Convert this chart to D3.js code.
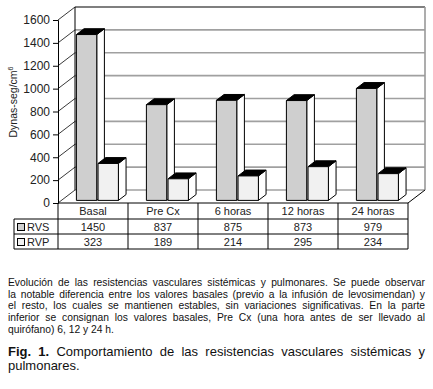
<!DOCTYPE html>
<html>
<head>
<meta charset="utf-8">
<script src="https://cdn.jsdelivr.net/npm/d3@7"></script>
<style>
  body { margin: 0; background: #fff; font-family: "Liberation Sans", Arial, sans-serif; }
  #wrap { position: relative; width: 433px; height: 389px; overflow: hidden; }
  svg { position: absolute; left: 0; top: 0; }
  .cap { position: absolute; left: 8px; width: 417px; color: #111; }
  .cap div { text-align: justify; text-align-last: justify; white-space: nowrap; }
  .cap div.last { text-align-last: left; }
</style>
</head>
<body>
<div id="wrap"></div>
<script>
const categories = ['Basal', 'Pre Cx', '6 horas', '12 horas', '24 horas'];
const series = ['RVS', 'RVP'];
const rvs = [1450, 837, 875, 873, 979];
const rvp = [323, 189, 214, 295, 234];
const yTicks = [0, 200, 400, 600, 800, 1000, 1200, 1400, 1600];

const captionLines = [
  'Evolución de las resistencias vasculares sistémicas y pulmonares. Se puede observar',
  'la notable diferencia entre los valores basales (previo a la infusión de levosimendan) y',
  'el resto, los cuales se mantienen estables, sin variaciones significativas. En la parte',
  'inferior se consignan los valores basales, Pre Cx (una hora antes de ser llevado al',
  'quirófano) 6, 12 y 24 h.'
];
const figLines = ['Comportamiento de las resistencias vasculares sistémicas y', 'pulmonares.'];

const W = 433, H = 389;
const DX = 17, DY = 13;          // depth of the 3D box
const D0 = 0.2, D1 = 0.65;       // depth span of the bars
const plotL = 58, plotR = 408, plotT = 20, floorY = 203;

const wrap = d3.select('#wrap');
const svg = wrap.append('svg').attr('width', W).attr('height', H);

const x0 = d3.scaleBand().domain(categories).range([plotL, plotR]);
const x1 = d3.scaleBand().domain(series).range([15, 57]).paddingInner(0.06);
const y = d3.scaleLinear().domain([0, 1600]).range([floorY, plotT]);

const P = (px, v, d) => [px + d * DX, y(v) - d * DY];
const poly = pts => 'M' + pts.map(p => p.join(',')).join('L') + 'Z';

// walls and floor
svg.append('path').attr('d', poly([P(plotL, 0, 1), P(plotR, 0, 1), P(plotR, 1600, 1), P(plotL, 1600, 1)]))
  .attr('fill', '#fff');
svg.append('path').attr('d', poly([P(plotL, 0, 0), P(plotL, 0, 1), P(plotL, 1600, 1), P(plotL, 1600, 0)]))
  .attr('fill', '#fff');

// gridlines
yTicks.forEach(v => {
  const a = P(plotL, v, 1), b = P(plotR, v, 1), c = P(plotL, v, 0);
  svg.append('line').attr('x1', a[0]).attr('y1', a[1]).attr('x2', b[0]).attr('y2', b[1])
    .attr('stroke', v === 1600 ? '#000' : '#a0a0a0').attr('stroke-width', v === 1600 ? 1.2 : 1.6);
  svg.append('line').attr('x1', c[0]).attr('y1', c[1]).attr('x2', a[0]).attr('y2', a[1])
    .attr('stroke', '#222').attr('stroke-width', 0.9);
});

// box edges
const edge = (p, q, col, w) => svg.append('line')
  .attr('x1', p[0]).attr('y1', p[1]).attr('x2', q[0]).attr('y2', q[1])
  .attr('stroke', col).attr('stroke-width', w);
edge(P(plotL, 0, 1), P(plotL, 1600, 1), '#000', 1);
edge(P(plotR, 0, 1), P(plotR, 1600, 1), '#999', 1.6);
edge(P(plotR, 0, 0), P(plotR, 0, 1), '#000', 1);

// bars
const values = { RVS: rvs, RVP: rvp };
const fronts = { RVS: '#cfcfcf', RVP: '#f1f1f1' };
categories.forEach((c, i) => {
  series.forEach(s => {
    const v = values[s][i];
    const xa = x0(c) + x1(s), xb = xa + x1.bandwidth();
    const g = svg.append('g').attr('stroke', '#000').attr('stroke-width', 1).attr('stroke-linejoin', 'round');
    g.append('path').attr('d', poly([P(xb, 0, D0), P(xb, 0, D1), P(xb, v, D1), P(xb, v, D0)])).attr('fill', '#fff');
    g.append('path').attr('d', poly([P(xa, v, D0), P(xb, v, D0), P(xb, v, D1), P(xa, v, D1)])).attr('fill', '#000');
    g.append('path').attr('d', poly([P(xa, 0, D0), P(xb, 0, D0), P(xb, v, D0), P(xa, v, D0)])).attr('fill', fronts[s]);
  });
});

// front axis
const axis = svg.append('g').attr('transform', `translate(${plotL},0)`)
  .call(d3.axisLeft(y).tickValues(yTicks).tickSize(5).tickPadding(3).tickFormat(d3.format('d')));
axis.select('.domain').attr('stroke', '#000');
axis.selectAll('.tick line').attr('stroke', '#000');
axis.selectAll('text').attr('font-family', '"Liberation Sans", Arial, sans-serif')
  .attr('font-size', 12).attr('fill', '#222');

// y axis title
const yt = svg.append('text')
  .attr('transform', 'translate(17,102) rotate(-90)')
  .attr('text-anchor', 'middle')
  .attr('font-size', 10.5).attr('fill', '#222');
yt.append('tspan').text('Dynas-seg/cm');
yt.append('tspan').attr('font-size', 7).attr('dy', -4).text('6');

// data table
const rowY = [floorY, 219, 234, 249];
const tableL = 14;
const tbl = svg.append('g').attr('stroke', '#000').attr('stroke-width', 1);
tbl.append('line').attr('x1', plotL).attr('x2', plotR).attr('y1', rowY[0]).attr('y2', rowY[0]);
rowY.slice(1).forEach(ry => tbl.append('line').attr('x1', tableL).attr('x2', plotR).attr('y1', ry).attr('y2', ry));
tbl.append('line').attr('x1', tableL).attr('x2', tableL).attr('y1', rowY[1]).attr('y2', rowY[3]);
categories.concat([null]).forEach(c => {
  const xx = c === null ? plotR : x0(c);
  tbl.append('line').attr('x1', xx).attr('x2', xx).attr('y1', rowY[0]).attr('y2', rowY[3]);
});

const tText = svg.append('g').attr('font-size', 11).attr('fill', '#222').attr('text-anchor', 'middle');
categories.forEach((c, i) => {
  const cx = x0(c) + x0.bandwidth() / 2;
  tText.append('text').attr('x', cx).attr('y', rowY[1] - 4).text(c);
  tText.append('text').attr('x', cx).attr('y', rowY[2] - 3.5).text(rvs[i]);
  tText.append('text').attr('x', cx).attr('y', rowY[3] - 3.5).text(rvp[i]);
});
series.forEach((s, k) => {
  const ry = rowY[k + 1];
  svg.append('rect').attr('x', 17.5).attr('y', ry + 4.5).attr('width', 7).attr('height', 7)
    .attr('fill', fronts[s]).attr('stroke', '#000').attr('stroke-width', 1);
  svg.append('text').attr('x', 27).attr('y', ry + 11.5).attr('font-size', 11).attr('fill', '#222').text(s);
});

// caption
const cap = wrap.append('div').attr('class', 'cap')
  .style('top', '277px').style('font-size', '10.3px').style('line-height', '11.7px');
captionLines.forEach((t, i) => cap.append('div').classed('last', i === captionLines.length - 1).text(t));

const fig = wrap.append('div').attr('class', 'cap')
  .style('top', '345px').style('font-size', '13px').style('line-height', '13.5px');
const f1 = fig.append('div');
f1.append('b').text('Fig. 1.');
f1.append('span').text(' ' + figLines[0]);
fig.append('div').attr('class', 'last').text(figLines[1]);
</script>
</body>
</html>
